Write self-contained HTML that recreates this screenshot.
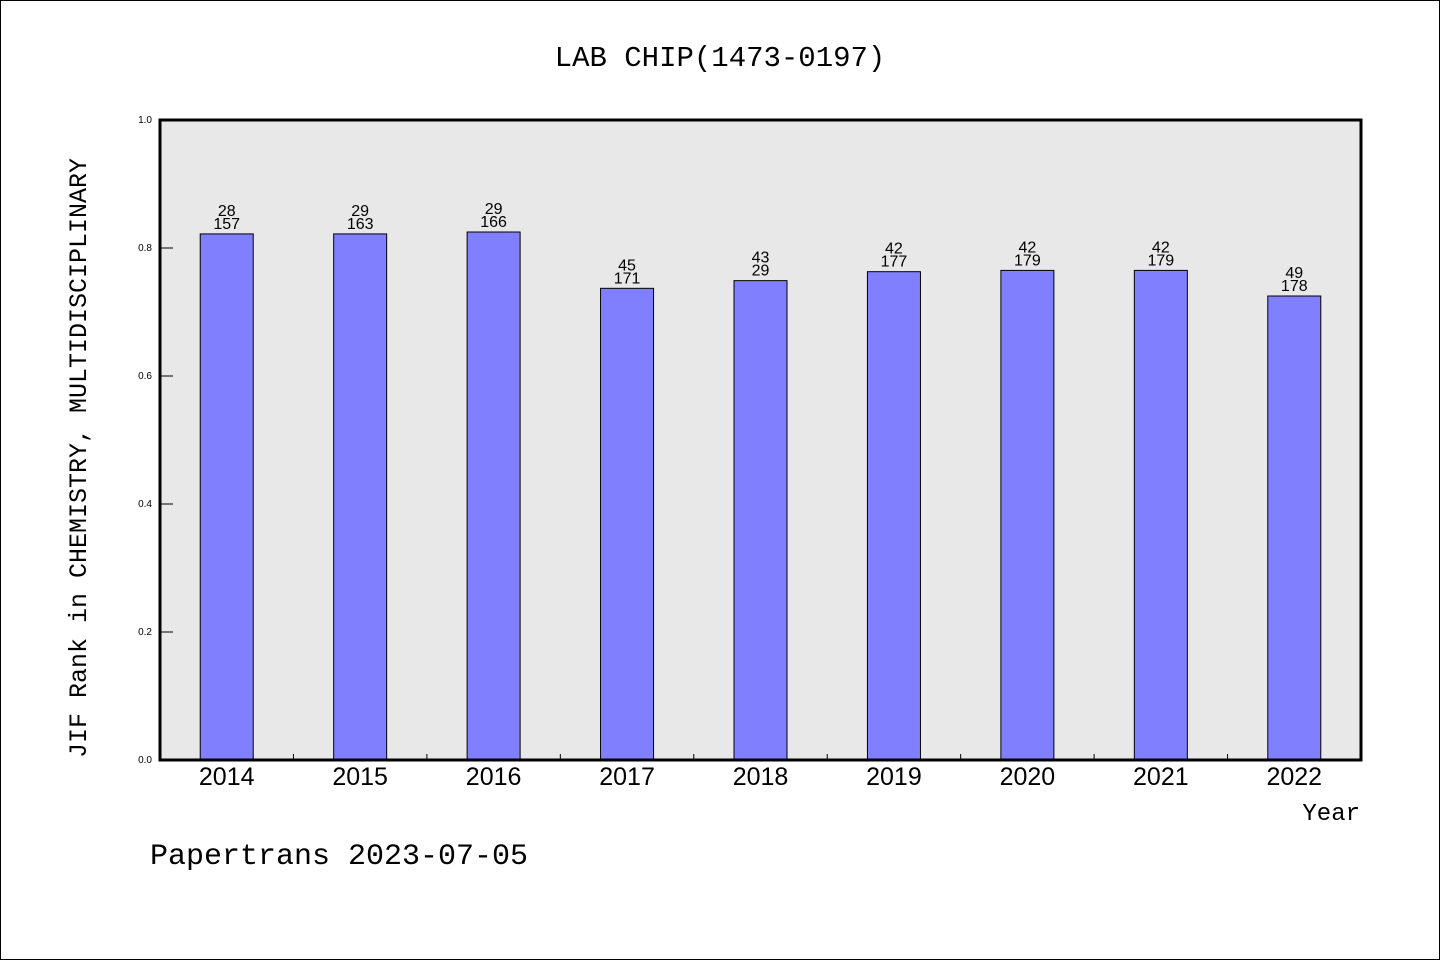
<!DOCTYPE html>
<html><head><meta charset="utf-8"><style>
html,body{margin:0;padding:0;background:#fff}
svg{display:block}
</style></head><body>
<svg id="chart" width="1440" height="960" xmlns="http://www.w3.org/2000/svg">
<rect x="0.5" y="0.5" width="1439" height="959" fill="#fff" stroke="#000"/>
<text x="720" y="66" text-anchor="middle" font-family="Liberation Mono, WenQuanYi Zen Hei, monospace" font-size="29">LAB CHIP(1473-0197)</text>
<rect x="160" y="120" width="1201" height="640" fill="#e8e8e8"/>
<g id="bars"></g>
<rect x="160" y="120" width="1201" height="640" fill="none" stroke="#000" stroke-width="3"/>
<text transform="translate(86,458) rotate(-90)" text-anchor="middle" font-family="Liberation Mono, WenQuanYi Zen Hei, monospace" font-size="25">JIF Rank in CHEMISTRY, MULTIDISCIPLINARY</text>
<text x="1360" y="820" text-anchor="end" font-family="Liberation Mono, WenQuanYi Zen Hei, monospace" font-size="24">Year</text>
<text x="150" y="864" font-family="Liberation Mono, WenQuanYi Zen Hei, monospace" font-size="30">Papertrans 2023-07-05</text>
</svg>
<script>
const categories = ["2014","2015","2016","2017","2018","2019","2020","2021","2022"];
const values = [0.822,0.822,0.825,0.737,0.749,0.763,0.765,0.765,0.725];
const labelTop = ["28","29","29","45","43","42","42","42","49"];
const labelBottom = ["157","163","166","171","29","177","179","179","178"];
const yTicks = [0,0.2,0.4,0.6,0.8,1.0];
const NS="http://www.w3.org/2000/svg";
const svg=document.getElementById('chart');
const g=document.getElementById('bars');
const X0=160,X1=1361,Y0=760,Y1=120;
const band=(X1-X0)/categories.length;
const xC=i=>X0+band*(i+0.5);
const y=v=>Y0-(v)*(Y0-Y1);
function mk(tag,attrs,parent){const e=document.createElementNS(NS,tag);for(const k in attrs)e.setAttribute(k,attrs[k]);(parent||svg).appendChild(e);return e;}
categories.forEach((c,i)=>{
  const r=mk('rect',{x:xC(i)-26.5,y:y(values[i]),width:53,height:Y0-y(values[i]),fill:'#8080ff',stroke:'#000','stroke-width':1},g);
  
  
  const t1=mk('text',{x:xC(i),y:y(values[i])-18,'text-anchor':'middle','font-family':'Liberation Sans, sans-serif','font-size':16});
  t1.textContent=labelTop[i];
  
  
  const t2=mk('text',{x:xC(i),y:y(values[i])-5,'text-anchor':'middle','font-family':'Liberation Sans, sans-serif','font-size':16});
  t2.textContent=labelBottom[i];
  
  
  const xt=mk('text',{x:xC(i),y:785,'text-anchor':'middle','font-family':'Liberation Sans, sans-serif','font-size':25});
  xt.textContent=c;
  
  
  if(i>0){
    const tk=mk('line',{x1:X0+band*i,x2:X0+band*i,y1:Y0,y2:Y0-6,stroke:'#000','stroke-width':1});
    
    
  }
});
yTicks.forEach(v=>{
  const t=mk('text',{x:152,y:y(v)+3,'text-anchor':'end','font-family':'Liberation Sans, sans-serif','font-size':10});
  t.textContent=v.toFixed(1);
  
  
  if(v>0&&v<1){
    const l=mk('line',{x1:X0,x2:X0+13,y1:y(v),y2:y(v),stroke:'#000','stroke-width':1});
    
    
  }
});
</script>
</body></html>
